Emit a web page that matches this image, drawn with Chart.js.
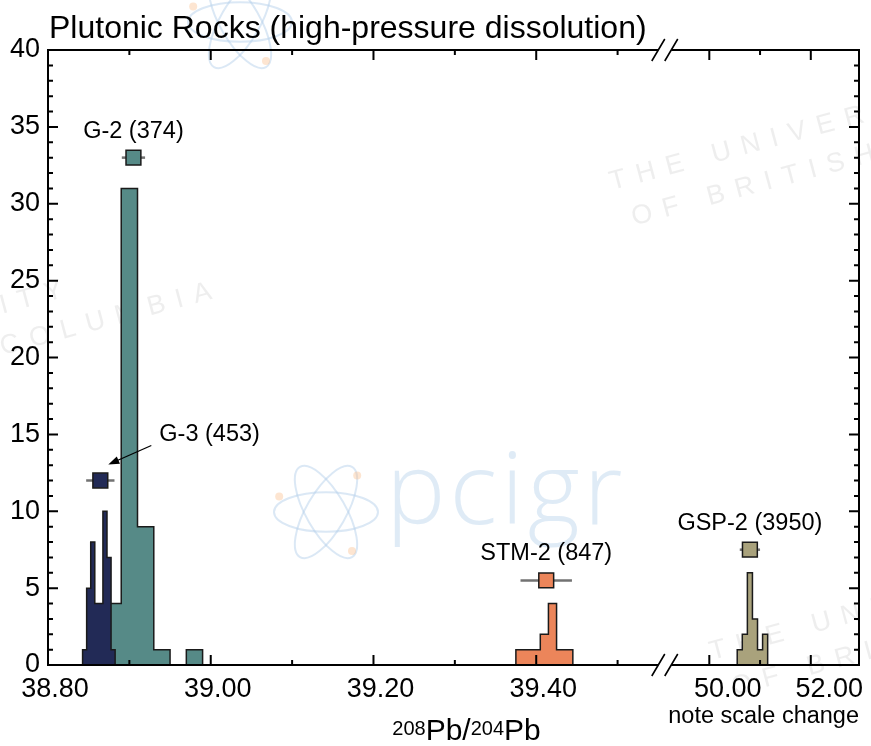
<!DOCTYPE html>
<html>
<head>
<meta charset="utf-8">
<title>Plutonic Rocks (high-pressure dissolution)</title>
<script src="https://cdn.jsdelivr.net/npm/chart.js@4.4.1/dist/chart.umd.min.js"></script>
<style>
  html, body { margin: 0; padding: 0; background: #fff; }
  #chart { display: block; }
</style>
</head>
<body>
<canvas id="chart" width="871" height="746"></canvas>
<script>
// histogram bins (edges) and counts for each reference material
const g3Edges = [38.8425, 38.8475, 38.8525, 38.8575, 38.8625, 38.8675, 38.8725, 38.8775, 38.8825];
const g3Counts = [1, 5, 8, 4, 4, 10, 7, 1];
const g2Edges = [38.87, 38.89, 38.91, 38.93, 38.95, 38.97, 38.99];
const g2Counts = [4, 31, 9, 1, 0, 1];
const stmEdges = [39.375, 39.385, 39.395, 39.405, 39.415, 39.425, 39.435, 39.445];
const stmCounts = [1, 1, 1, 2, 4, 1, 1];
const gspEdges = [50.55, 50.65, 50.75, 50.85, 50.95, 51.05, 51.15];
const gspCounts = [1, 2, 6, 3, 1, 2];

// reference values with their uncertainty, plotted above each histogram
const sampleNames = ['G-2 (374)', 'G-3 (453)', 'STM-2 (847)', 'GSP-2 (3950)'];
const sampleMeans = [38.905, 38.8643, 39.4123, 50.80];
const sampleErrors = [0.0143, 0.0174, 0.0316, 0.20];
const sampleHeights = [33, 12, 5.5, 7.5];
const sampleColors = ['#568a87', '#222a56', '#ec855a', '#a9a27c'];

// axis ticks
const leftMajorTicks = [38.80, 39.00, 39.20, 39.40];
const leftMinorTicks = [38.90, 39.10, 39.30, 39.50];
const rightMajorTicks = [50.00, 52.00];
const rightMinorTicks = [51.00];
const yMajorTicks = [0, 5, 10, 15, 20, 25, 30, 35, 40];

// the x axis is broken: two value ranges share one axis line
const leftRange = [38.80, 39.55];
const rightRange = [49.25, 52.95];
const breakFrac = [0.7525, 0.7685];

const FONT = '"Liberation Sans", Arial, Helvetica, sans-serif';

function outline(edges, counts) {
  const pts = [{ x: edges[0], y: 0 }];
  counts.forEach((c, i) => {
    pts.push({ x: edges[i], y: c }, { x: edges[i + 1], y: c });
  });
  pts.push({ x: edges[edges.length - 1], y: 0 });
  return pts;
}

function axisFor(v) {
  return v > rightRange[0] ? 'x2' : 'x';
}

function histogram(edges, counts, color, order) {
  return {
    data: outline(edges, counts),
    xAxisID: axisFor(edges[0]),
    borderColor: '#1a1a1a',
    borderWidth: 1.5,
    backgroundColor: color,
    fill: 'origin',
    pointRadius: 0,
    tension: 0,
    order: order
  };
}

const datasets = [
  histogram(g2Edges, g2Counts, sampleColors[0], 6),
  histogram(g3Edges, g3Counts, sampleColors[1], 5),
  histogram(stmEdges, stmCounts, sampleColors[2], 5),
  histogram(gspEdges, gspCounts, sampleColors[3], 5)
];

// horizontal error bars, then the square markers on top
sampleMeans.forEach((m, i) => {
  datasets.push({
    data: [{ x: m - sampleErrors[i], y: sampleHeights[i] }, { x: m + sampleErrors[i], y: sampleHeights[i] }],
    xAxisID: axisFor(m),
    borderColor: '#727272',
    borderWidth: 2.5,
    pointRadius: 0,
    fill: false,
    order: 2
  });
  datasets.push({
    data: [{ x: m, y: sampleHeights[i] }],
    xAxisID: axisFor(m),
    showLine: false,
    pointStyle: 'rect',
    pointRadius: 10.5,
    pointBackgroundColor: sampleColors[i],
    pointBorderColor: '#1a1a1a',
    pointBorderWidth: 1.5,
    order: 1
  });
});

// small atom emblem used in the lab logo
function atom(ctx, cx, cy, r) {
  ctx.save();
  ctx.translate(cx, cy);
  ctx.strokeStyle = 'rgba(175, 205, 232, 0.45)';
  ctx.lineWidth = 2;
  [0, 60, 120].forEach(deg => {
    ctx.save();
    ctx.rotate(deg * Math.PI / 180);
    ctx.beginPath();
    ctx.ellipse(0, 0, r, r * 0.38, 0, 0, Math.PI * 2);
    ctx.stroke();
    ctx.restore();
  });
  ctx.fillStyle = 'rgba(250, 190, 140, 0.4)';
  [[-r * 0.9, -r * 0.3], [r * 0.5, r * 0.75], [r * 0.6, -r * 0.7]].forEach(([dx, dy]) => {
    ctx.beginPath();
    ctx.arc(dx, dy, 4, 0, Math.PI * 2);
    ctx.fill();
  });
  ctx.restore();
}

// faint logo lettering in the background
const watermark = {
  id: 'watermark',
  beforeDraw(chart) {
    const ctx = chart.ctx;
    ctx.save();
    ctx.fillStyle = '#fff';
    ctx.fillRect(0, 0, chart.width, chart.height);

    atom(ctx, 326, 512, 52);
    atom(ctx, 240, 22, 52);

    ctx.font = '300 100px "Open Sans", ' + FONT;
    ctx.fillStyle = 'rgba(175, 205, 232, 0.4)';
    ctx.letterSpacing = '4px';
    ctx.fillText('pcigr', 386, 524);

    ctx.fillStyle = 'rgba(200, 200, 200, 0.3)';
    ctx.font = '27px ' + FONT;
    ctx.letterSpacing = '11px';
    const blocks = [[612, 190], [-290, 392], [712, 660]];
    blocks.forEach(([bx, by]) => {
      ctx.save();
      ctx.translate(bx, by);
      ctx.rotate(-15 * Math.PI / 180);
      ctx.fillText('THE UNIVERSITY', 0, 0);
      ctx.fillText('OF BRITISH COLUMBIA', 12, 40);
      ctx.restore();
    });
    ctx.restore();
  }
};

// frame, inward ticks, break marks, labels and annotations
const brokenAxes = {
  id: 'brokenAxes',
  afterDatasetsDraw(chart) {
    const { ctx, chartArea: a, scales } = chart;
    const xl = scales.x, xr = scales.x2, y = scales.y;
    const breakL = xl.getPixelForValue(leftRange[1]);
    const breakR = xr.getPixelForValue(rightRange[0]);

    ctx.save();
    ctx.strokeStyle = '#000';
    ctx.lineWidth = 2;
    ctx.beginPath();
    ctx.moveTo(a.left, a.top - 1);
    ctx.lineTo(a.left, a.bottom + 1);
    ctx.moveTo(a.right, a.top - 1);
    ctx.lineTo(a.right, a.bottom + 1);
    [a.top, a.bottom].forEach(py => {
      ctx.moveTo(a.left, py);
      ctx.lineTo(breakL, py);
      ctx.moveTo(breakR, py);
      ctx.lineTo(a.right, py);
    });
    ctx.stroke();

    ctx.lineWidth = 1.6;
    ctx.beginPath();
    [a.top, a.bottom].forEach(py => {
      [breakL, breakR].forEach(px => {
        ctx.moveTo(px - 6.5, py + 11);
        ctx.lineTo(px + 6.5, py - 11);
      });
    });
    ctx.stroke();

    // x ticks, pointing into the plot from top and bottom
    const xTick = (px, len) => {
      ctx.moveTo(px, a.bottom);
      ctx.lineTo(px, a.bottom - len);
      ctx.moveTo(px, a.top);
      ctx.lineTo(px, a.top + len);
    };
    ctx.lineWidth = 2;
    ctx.beginPath();
    leftMajorTicks.forEach(v => xTick(xl.getPixelForValue(v), 10));
    leftMinorTicks.forEach(v => xTick(xl.getPixelForValue(v), 5));
    rightMajorTicks.forEach(v => xTick(xr.getPixelForValue(v), 10));
    rightMinorTicks.forEach(v => xTick(xr.getPixelForValue(v), 5));

    // y ticks on both sides, minor every unit
    for (let v = y.min; v <= y.max; v++) {
      const py = y.getPixelForValue(v);
      const len = yMajorTicks.includes(v) ? 10 : 5;
      ctx.moveTo(a.left, py);
      ctx.lineTo(a.left + len, py);
      ctx.moveTo(a.right, py);
      ctx.lineTo(a.right - len, py);
    }
    ctx.stroke();

    // tick labels
    ctx.fillStyle = '#000';
    ctx.font = '27px ' + FONT;
    ctx.textAlign = 'right';
    ctx.textBaseline = 'middle';
    yMajorTicks.forEach(v => ctx.fillText(String(v), a.left - 8, y.getPixelForValue(v)));

    ctx.textAlign = 'center';
    ctx.textBaseline = 'alphabetic';
    leftMajorTicks.forEach(v => ctx.fillText(v.toFixed(2), xl.getPixelForValue(v) + 7, a.bottom + 32));
    rightMajorTicks.forEach(v => ctx.fillText(v.toFixed(2), xr.getPixelForValue(v) + 18.5, a.bottom + 32));

    ctx.font = '23.5px ' + FONT;
    ctx.textAlign = 'right';
    ctx.fillText('note scale change', a.right, a.bottom + 58);

    // axis title with superscript mass numbers
    const parts = [['208', true], ['Pb/', false], ['204', true], ['Pb', false]];
    const supFont = '20px ' + FONT, mainFont = '30px ' + FONT;
    let total = 0;
    parts.forEach(([t, sup]) => { ctx.font = sup ? supFont : mainFont; total += ctx.measureText(t).width; });
    let tx = (a.left + a.right) / 2 + 13 - total / 2;
    ctx.textAlign = 'left';
    parts.forEach(([t, sup]) => {
      ctx.font = sup ? supFont : mainFont;
      ctx.fillText(t, tx, a.bottom + (sup ? 70 : 75));
      tx += ctx.measureText(t).width;
    });

    // chart title
    ctx.font = '32px ' + FONT;
    ctx.fillText('Plutonic Rocks (high-pressure dissolution)', 49, 38);

    // sample labels above their markers
    ctx.font = '23.5px ' + FONT;
    sampleMeans.forEach((m, i) => {
      const sx = scales[axisFor(m)].getPixelForValue(m);
      const sy = y.getPixelForValue(sampleHeights[i]);
      if (i === 1) {
        ctx.textAlign = 'left';
        ctx.fillText(sampleNames[i], sx + 59, sy - 40);
        // arrow pointing down to the G-3 marker
        const x0 = sx + 51, y0 = sy - 35, x1 = sx + 8, y1 = sy - 16;
        const ang = Math.atan2(y1 - y0, x1 - x0);
        ctx.lineWidth = 1.3;
        ctx.beginPath();
        ctx.moveTo(x0, y0);
        ctx.lineTo(x1 - 8 * Math.cos(ang), y1 - 8 * Math.sin(ang));
        ctx.stroke();
        ctx.beginPath();
        ctx.moveTo(x1, y1);
        ctx.lineTo(x1 - 11 * Math.cos(ang) + 4 * Math.sin(ang), y1 - 11 * Math.sin(ang) - 4 * Math.cos(ang));
        ctx.lineTo(x1 - 11 * Math.cos(ang) - 4 * Math.sin(ang), y1 - 11 * Math.sin(ang) + 4 * Math.cos(ang));
        ctx.closePath();
        ctx.fill();
      } else {
        ctx.textAlign = 'center';
        ctx.fillText(sampleNames[i], sx, sy - 20);
      }
    });
    ctx.restore();
  }
};

new Chart(document.getElementById('chart'), {
  type: 'line',
  data: { datasets: datasets },
  options: {
    responsive: false,
    animation: false,
    events: [],
    devicePixelRatio: 1,
    layout: { padding: { left: 48, top: 50, right: 8, bottom: 81 } },
    scales: {
      x: {
        type: 'linear',
        display: false,
        min: leftRange[0],
        max: leftRange[0] + (leftRange[1] - leftRange[0]) / breakFrac[0]
      },
      x2: {
        type: 'linear',
        display: false,
        min: rightRange[0] - (rightRange[1] - rightRange[0]) * breakFrac[1] / (1 - breakFrac[1]),
        max: rightRange[1]
      },
      y: { type: 'linear', display: false, min: 0, max: 40 }
    },
    plugins: {
      legend: { display: false },
      tooltip: { enabled: false }
    }
  },
  plugins: [watermark, brokenAxes]
});
</script>
</body>
</html>
